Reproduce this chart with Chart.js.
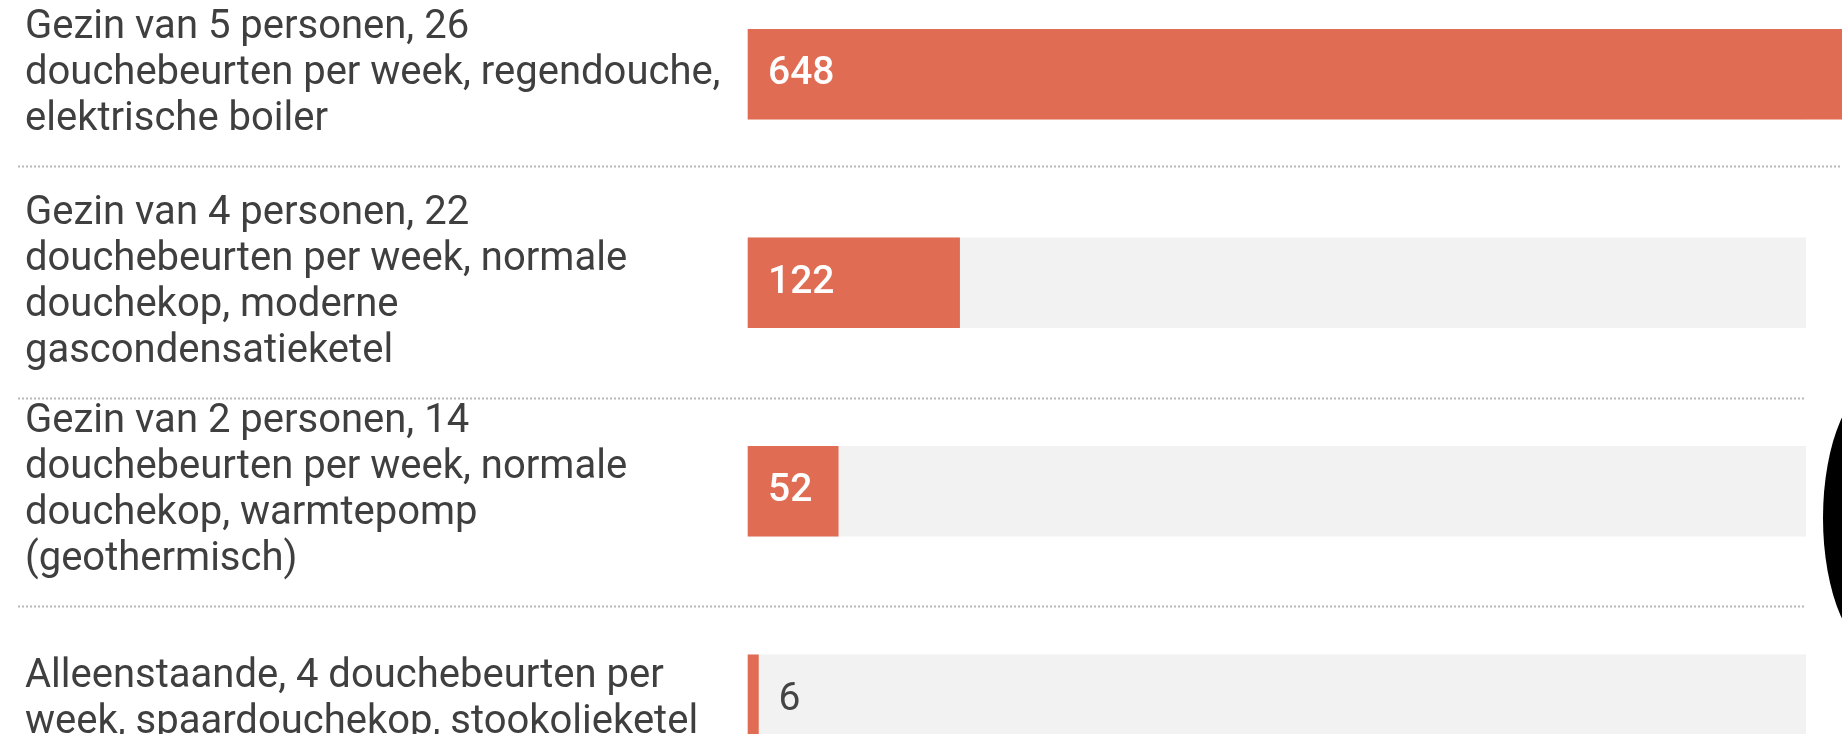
<!DOCTYPE html>
<html>
<head>
<meta charset="utf-8">
<script src="https://cdn.jsdelivr.net/npm/chart.js@4.4.1/dist/chart.umd.min.js"></script>
<style>
  html, body { margin: 0; padding: 0; background: #ffffff; overflow: hidden; }
  #wrap { position: relative; width: 1842px; height: 734px; overflow: hidden; background: #ffffff; }
  #c { position: absolute; left: 0; top: -30px; width: 1842px; height: 834px; }
  #blob { position: absolute; left: 1823px; top: 380px; width: 120px; height: 276px; border-radius: 50%; background: #000000; }
</style>
</head>
<body>
<div id="wrap">
  <canvas id="c" width="1842" height="834"></canvas>
  <div id="blob"></div>
</div>
<script>
// ---- data ----
const categories = [
  ["Gezin van 5 personen, 26", "douchebeurten per week, regendouche,", "elektrische boiler"],
  ["Gezin van 4 personen, 22", "douchebeurten per week, normale", "douchekop, moderne", "gascondensatieketel"],
  ["Gezin van 2 personen, 14", "douchebeurten per week, normale", "douchekop, warmtepomp", "(geothermisch)"],
  ["Alleenstaande, 4 douchebeurten per", "week, spaardouchekop, stookolieketel"]
];
const values = [648, 122, 52, 6];
const axisMax = 610;

// ---- style ----
const BAR = '#E06D53';
const TRACK = '#F2F2F2';
const LABEL_COLOR = '#3f3f3f';
const LABEL_SIZE = 40;
const LINE_H = 46;

const separators = {
  id: 'separators',
  beforeDatasetsDraw(chart) {
    const ctx = chart.ctx;
    const ys = chart.scales.y;
    const area = chart.chartArea;
    ctx.save();
    ctx.strokeStyle = '#b8b8b8';
    ctx.lineWidth = 2;
    ctx.setLineDash([2, 2]);
    for (let i = 0; i < categories.length - 1; i++) {
      const yc = ys.getPixelForValue(i);
      const y = Math.round(yc + categories[i].length * LINE_H / 2 + 23) + 0.5;
      const xr = values[i] > axisMax ? chart.width : area.right;
      ctx.beginPath();
      ctx.moveTo(18, y);
      ctx.lineTo(xr, y);
      ctx.stroke();
    }
    ctx.restore();
  }
};

const valueLabels = {
  id: 'valueLabels',
  afterDatasetsDraw(chart) {
    const ctx = chart.ctx;
    const meta = chart.getDatasetMeta(0);
    ctx.save();
    ctx.textBaseline = 'middle';
    ctx.textAlign = 'left';
    meta.data.forEach((bar, i) => {
      const txt = String(values[i]);
      ctx.font = '500 39px Roboto';
      const w = ctx.measureText(txt).width;
      const len = bar.x - bar.base;
      if (len > w + 40) {
        ctx.fillStyle = '#ffffff';
        ctx.fillText(txt, bar.base + 20, bar.y);
      } else {
        ctx.font = '400 39px Roboto';
        ctx.fillStyle = '#444444';
        ctx.fillText(txt, bar.x + 20, bar.y);
      }
    });
    ctx.restore();
  }
};

new Chart(document.getElementById('c'), {
  type: 'bar',
  data: {
    labels: categories,
    datasets: [
      {
        data: values,
        backgroundColor: BAR,
        barThickness: 90,
        grouped: false,
        order: 0,
        clip: false
      },
      {
        data: categories.map(() => axisMax),
        backgroundColor: TRACK,
        barThickness: 90,
        grouped: false,
        order: 1
      }
    ]
  },
  options: {
    indexAxis: 'y',
    responsive: false,
    animation: false,
    devicePixelRatio: 1,
    layout: { padding: { left: 25, right: 36, top: 0, bottom: 0 } },
    plugins: { legend: { display: false }, tooltip: { enabled: false } },
    scales: {
      x: { display: false, min: 0, max: axisMax },
      y: {
        grid: { display: false },
        border: { display: false },
        ticks: {
          crossAlign: 'far',
          color: LABEL_COLOR,
          padding: 0,
          font: { family: 'Roboto', size: LABEL_SIZE, lineHeight: LINE_H / LABEL_SIZE }
        },
        afterFit(s) {
          s.width = 723;
          s.paddingTop = 0;
          s.paddingBottom = 0;
        }
      }
    }
  },
  plugins: [separators, valueLabels]
});
</script>
</body>
</html>
